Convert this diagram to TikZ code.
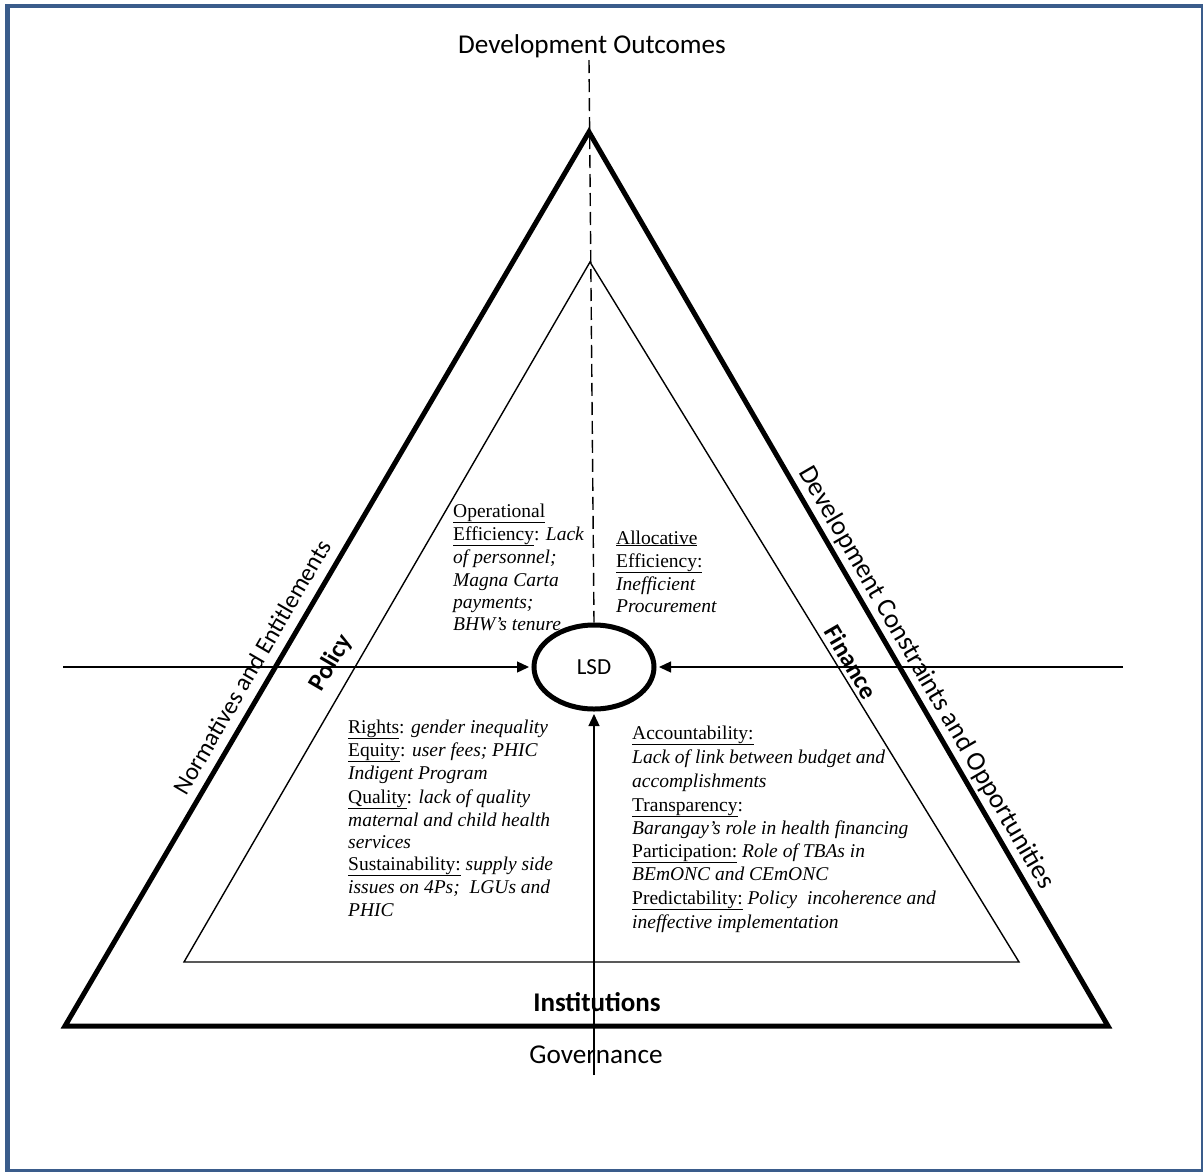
\documentclass[tikz,border=0pt]{standalone}
\usepackage{fontspec}
\setmainfont{Liberation Serif}
\newfontfamily\lblfont{Carlito}
\usetikzlibrary{shapes.geometric,arrows.meta}
\definecolor{borderblue}{RGB}{58,92,139}
\begin{document}
\begin{tikzpicture}[x=1pt,y=-1pt,
  lbl/.style={font=\lblfont\fontsize{27.2}{30}\selectfont, inner sep=0pt},
  lblb/.style={font=\lblfont\bfseries\fontsize{27}{30}\selectfont, inner sep=0pt},
  slantlbl/.style={font=\lblfont\fontsize{#1}{30}\selectfont, inner sep=0pt},
  slantlblb/.style={font=\lblfont\bfseries\fontsize{25}{30}\selectfont, inner sep=0pt},
  txt/.style={font=\fontsize{19.5}{23}\selectfont, inner sep=0pt, anchor=base west},
  outertri/.style={line width=5pt, black},
  innertri/.style={line width=1.4pt, black},
  dashline/.style={line width=1.4pt, dash pattern=on 13pt off 6pt},
  arr/.style={line width=1.3pt, -{Triangle[length=12pt,width=11pt]}, shorten >=2.5pt},
  lsdbox/.style={ellipse, draw, line width=5pt, fill=white, inner sep=0pt,
     minimum width=120pt, minimum height=84pt, font=\lblfont\fontsize{23}{26}\selectfont}]
\useasboundingbox (0,0) rectangle (1203,1171);
\fill[white] (0,0) rectangle (1203,1171);
\draw[borderblue, line width=4.5pt] (7.5,6) rectangle (1203.5,1171.5);

% triangles
\draw[outertri] (589,132) -- (1108,1026) -- (65,1026) -- cycle;
\draw[innertri] (590,262) -- (1019,962) -- (184,962) -- cycle;

% side labels
\node[lbl] (devout) at (592,46) {Development Outcomes};
\node[slantlbl=24.5, rotate=59.7] (norm) at (252,667) {Normatives and Entitlements};
\node[slantlblb, rotate=59.7] (policy) at (331,663) {Policy};
\node[slantlbl=27, rotate=-59.8] (devc) at (926,678) {Development Constraints and Opportunities};
\node[slantlblb, rotate=-59.8] (fin) at (851,662) {Finance};
\node[lblb] (inst) at (597,1002) {Institutions};
\node[lbl] (gov) at (596,1055) {Governance};

% text blocks
\node[txt] (a1) at (453,517) {\underline{Operational}};
\node[txt] (a2) at (453,540) {\underline{Efficiency}: \textit{Lack}};
\node[txt] (a3) at (453,563) {\textit{of personnel;}};
\node[txt] (a4) at (453,586) {\textit{Magna Carta}};
\node[txt] (a5) at (453,608) {\textit{payments;}};
\node[txt] (a6) at (453,630) {\textit{BHW’s tenure}};

\node[txt] (b1) at (616,544) {\underline{Allocative}};
\node[txt] (b2) at (616,567) {\underline{Efficiency:}};
\node[txt] (b3) at (616,590) {\textit{Inefficient}};
\node[txt] (b4) at (616,612) {\textit{Procurement}};

\node[txt] (c1) at (348,733) {\underline{Rights}: \textit{gender inequality}};
\node[txt] (c2) at (348,756) {\underline{Equity}: \textit{user fees; PHIC}};
\node[txt] (c3) at (348,779) {\textit{Indigent Program}};
\node[txt] (c4) at (348,803) {\underline{Quality}: \textit{lack of quality}};
\node[txt] (c5) at (348,826) {\textit{maternal and child health}};
\node[txt] (c6) at (348,848) {\textit{services}};
\node[txt] (c7) at (348,870) {\underline{Sustainability:} \textit{supply side}};
\node[txt] (c8) at (348,893) {\textit{issues on 4Ps;\ \ LGUs and}};
\node[txt] (c9) at (348,916) {\textit{PHIC}};

\node[txt] (d1) at (632,739) {\underline{Accountability:}};
\node[txt] (d2) at (632,763) {\textit{Lack of link between budget and}};
\node[txt] (d3) at (632,787) {\textit{accomplishments}};
\node[txt] (d4) at (632,811) {\underline{Transparency}:};
\node[txt] (d5) at (632,834) {\textit{Barangay’s role in health financing}};
\node[txt] (d6) at (632,857) {\underline{Participation:} \textit{Role of TBAs in}};
\node[txt] (d7) at (632,880) {\textit{BEmONC and CEmONC}};
\node[txt] (d8) at (632,904) {\underline{Predictability:} \textit{Policy\ \ incoherence and}};
\node[txt] (d9) at (632,928) {\textit{ineffective implementation}};

% central ellipse
\node[lsdbox] (lsd) at (594,667) {LSD};

% connectors
\coordinate (dtop) at (589,60);
\coordinate (hl) at (63,667);
\coordinate (hr) at (1123,667);
\coordinate (vb) at (594,1075);
\draw[dashline] (dtop) -- (lsd.north);
\draw[arr] (hl) -- (lsd.west);
\draw[arr] (hr) -- (lsd.east);
\draw[arr] (vb) -- (lsd.south);
\end{tikzpicture}
\end{document}
